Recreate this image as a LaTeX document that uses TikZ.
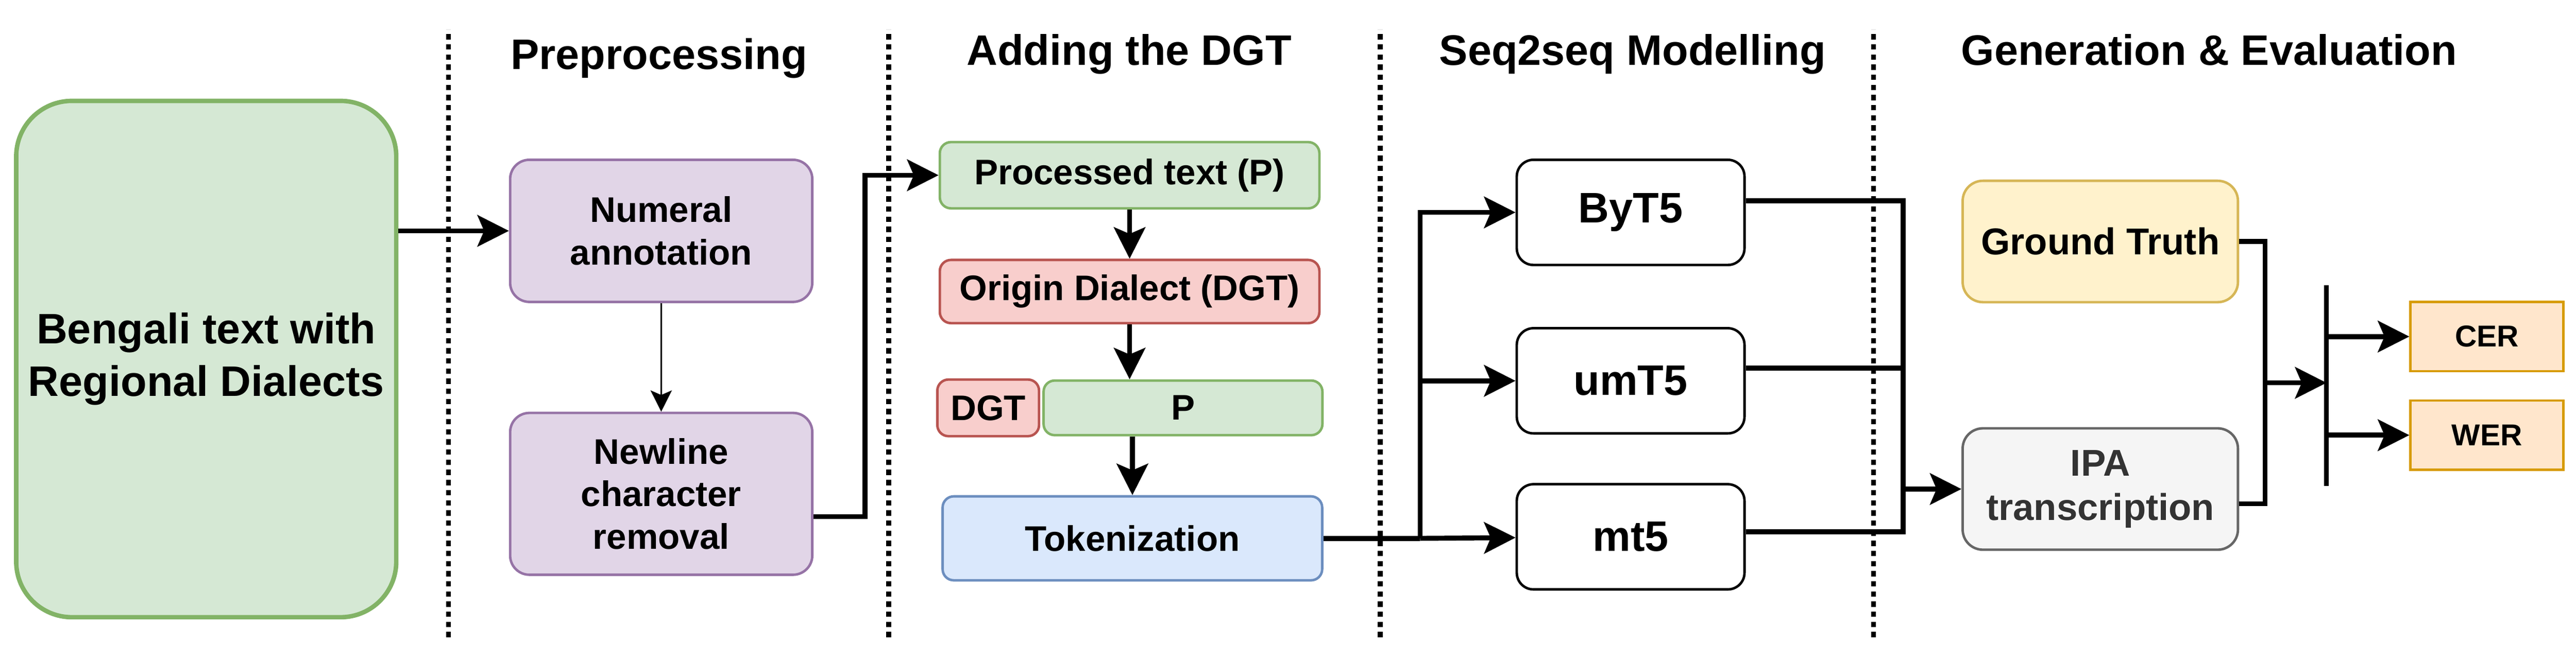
\documentclass[tikz,border=0pt]{standalone}
\usepackage{fontspec}
\setmainfont{Liberation Sans}
\usepackage{tikz}
\usetikzlibrary{
        arrows.meta,
        positioning
    }
\definecolor{greenfill}{HTML}{D5E8D4}
\definecolor{greenline}{HTML}{82B366}
\definecolor{purplefill}{HTML}{E1D5E7}
\definecolor{purpleline}{HTML}{9673A6}
\definecolor{redfill}{HTML}{F8CECC}
\definecolor{redline}{HTML}{B85450}
\definecolor{bluefill}{HTML}{DAE8FC}
\definecolor{blueline}{HTML}{6C8EBF}
\definecolor{yellowfill}{HTML}{FFF2CC}
\definecolor{yellowline}{HTML}{D6B656}
\definecolor{grayfill}{HTML}{F5F5F5}
\definecolor{grayline}{HTML}{666666}
\definecolor{graytext}{HTML}{333333}
\definecolor{orangefill}{HTML}{FFE6CC}
\definecolor{orangeline}{HTML}{D79B00}

\begin{document}
\begin{tikzpicture}
[baseshape/.style={draw, rectangle, rounded corners=0.38cm, line width=1.4pt, align=center, inner sep=0pt, font=\bfseries\fontsize{20}{24}\selectfont},
source/.style={baseshape, fill=greenfill, draw=greenline, line width=2.5pt, rounded corners=1.1cm, minimum width=7.51cm, minimum height=10.21cm, font=\bfseries\fontsize{24}{29.5}\selectfont},
prep/.style={baseshape, fill=purplefill, draw=purpleline, minimum width=5.97cm},
strip/.style={baseshape, rounded corners=0.22cm, minimum width=7.5cm},
model/.style={baseshape, fill=white, draw=black, rounded corners=0.33cm, minimum width=4.5cm, minimum height=2.08cm, font=\bfseries\fontsize{24}{28}\selectfont},
result/.style={baseshape, rounded corners=0.4cm, minimum width=5.44cm, minimum height=2.4cm, font=\bfseries\fontsize{21}{24.8}\selectfont},
metric/.style={baseshape, sharp corners, fill=orangefill, draw=orangeline, minimum width=3.02cm, minimum height=1.37cm, font=\bfseries\fontsize{17}{20}\selectfont},
header/.style={anchor=base, font=\bfseries\fontsize{24}{28}\selectfont},
line/.style={line width=2.8pt},
arrow/.style={line width=2.8pt, -{Stealth[length=0.62cm, width=0.62cm, inset=0.13cm]}},
thinarrow/.style={line width=1pt, -{Stealth[length=0.42cm, width=0.42cm, inset=0.09cm]}},
sep/.style={line width=2.8pt, dash pattern=on 3pt off 2.7pt},
node distance=2.3cm,]
    \useasboundingbox (0,0) rectangle (50.9,13.05);
    % section separators and titles
    \foreach \x in {8.86,17.56,27.27,37.02}
        \draw[sep] (\x,0.45) -- (\x,12.47);
    \node (titleprep) [header] at (13.02,11.68) {Preprocessing};
    \node (titledgt) [header] at (22.31,11.76) {Adding the DGT};
    \node (titleseq) [header] at (32.26,11.76) {Seq2seq Modelling};
    \node (titlegen) [header] at (43.65,11.76) {Generation \& Evaluation};
    % boxes
    \node (source) [source] at (4.075,5.95) {Bengali text with\\Regional Dialects};
    \node (numeral) [prep, minimum height=2.81cm] at (13.065,8.485) {Numeral\\annotation};
    \node (newline) [prep, minimum height=3.2cm, below of=numeral, yshift=-2.9cm] {Newline\\character\\removal};
    \node (processed) [strip, fill=greenfill, draw=greenline, minimum height=1.31cm] at (22.32,9.585) {Processed text (P)};
    \node (origin) [strip, fill=redfill, draw=redline, minimum height=1.25cm, below of=processed] {Origin Dialect (DGT)};
    \node (ptext) [strip, fill=greenfill, draw=greenline, minimum width=5.51cm, minimum height=1.08cm, below of=origin, xshift=1.055cm] {P};
    \node (dgt) [strip, fill=redfill, draw=redline, minimum width=2.01cm, minimum height=1.12cm, left=0.04cm of ptext] {DGT};
    \node (tokens) [strip, fill=bluefill, draw=blueline, minimum height=1.66cm, below of=ptext, xshift=-1cm, yshift=-0.28cm] {Tokenization};
    \node (byt5) [model] at (32.22,8.85) {ByT5};
    \node (umt5) [model, below of=byt5, yshift=-1.03cm] {umT5};
    \node (mt5) [model, below of=umt5, yshift=-0.785cm] {mt5};
    \node (truth) [result, fill=yellowfill, draw=yellowline] at (41.5,8.275) {Ground Truth};
    \node (ipa) [result, fill=grayfill, draw=grayline, text=graytext, below of=truth, yshift=-2.595cm] {IPA\\transcription};
    \node (cer) [metric] at (49.14,6.395) {CER};
    \node (wer) [metric, below of=cer, yshift=0.35cm] {WER};
    \coordinate (bartop) at (45.97,7.41);
    \coordinate (barbot) at (45.97,3.44);
    \coordinate (join) at (45.97,5.48);
    % connectors
    \draw[arrow] (source.east |- numeral) -- (numeral);
    \draw[thinarrow] (numeral) -- (newline);
    \draw[arrow] ([yshift=-0.45cm]newline.east) -- ++(1.02,0) |- (processed);
    \draw[arrow] (processed) -- (origin);
    \draw[arrow] (origin) -- (origin |- ptext.north);
    \draw[arrow] (ptext.south -| tokens) -- (tokens);
    \draw[line] (tokens.east) -- ++(1.91,0) coordinate (tsplit);
    \draw[arrow] (tsplit) |- (byt5);
    \draw[arrow] (tsplit) |- (umt5);
    \draw[arrow] (tsplit) -- (mt5);
    \draw[line] ([yshift=0.23cm]byt5.east) -- ++(3.11,0) coordinate (mtop) |- ([yshift=0.1cm]mt5.east);
    \draw[line] ([yshift=0.25cm]umt5.east) -- ([yshift=0.25cm]umt5.east -| mtop);
    \draw[arrow] (mtop |- ipa) -- (ipa);
    \draw[line] (truth.east) -- ++(0.51,0) coordinate (gtop) |- ([yshift=-0.29cm]ipa.east);
    \draw[arrow] (gtop |- join) -- (join);
    \draw[line, line width=2.6pt] (bartop) -- (barbot);
    \draw[arrow] (bartop |- cer) -- (cer);
    \draw[arrow] (bartop |- wer) -- (wer);
\end{tikzpicture}
\end{document}
